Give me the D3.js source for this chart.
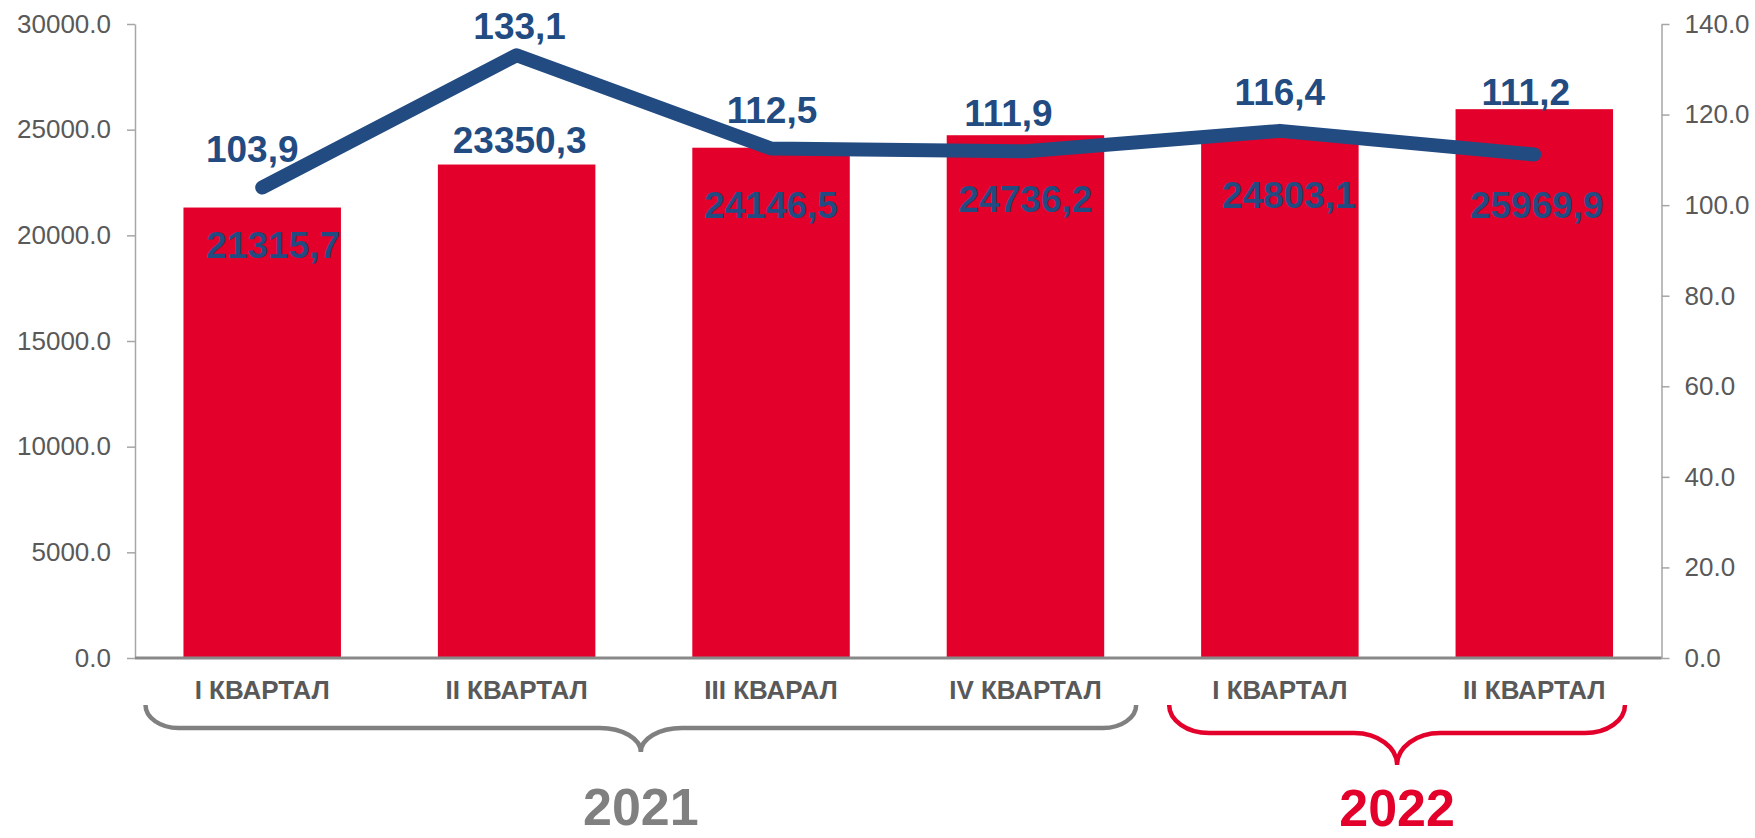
<!DOCTYPE html>
<html><head><meta charset="utf-8">
<script src="https://cdn.jsdelivr.net/npm/d3@7"></script>
<style>body{margin:0;background:#fff} svg{display:block}</style>
</head><body><svg id="c" width="1755" height="838"></svg>
<script>
// ---- data ----
const categories = ["I КВАРТАЛ", "II КВАРТАЛ", "III КВАРАЛ", "IV КВАРТАЛ", "I КВАРТАЛ", "II КВАРТАЛ"];
const volumes = [21315.7, 23350.3, 24146.5, 24736.2, 24803.1, 25969.9];
const growth = [103.9, 133.1, 112.5, 111.9, 116.4, 111.2];
const leftTicks = [0, 5000, 10000, 15000, 20000, 25000, 30000];
const rightTicks = [0, 20, 40, 60, 80, 100, 120, 140];
const yearLabels = ["2021", "2022"];
const yearFrom = [0, 4];
const yearTo = [3, 5];

// ---- label placement (style) ----
const barLabelDx = [11, 3, 0, 0, 9, 2.5];
const barLabelDy = [50.5, -11.5, 70, 77, 74.5, 109];
const lineLabelDx = [-10, 3, 1, -17, 0, -8.5];
const lineLabelDy = [-25.5, -16, -25.5, -25, -26, -49];

const BLUE = "#224B82", RED = "#E3002B", GRAY = "#808080", TXT = "#595959";
const FONT = "'Liberation Sans', Arial, sans-serif";

const svg = d3.select("#c");
const pLeft = 135, pRight = 1661.5, pTop = 24, pBottom = 658;

const x = d3.scaleBand().domain(d3.range(categories.length)).range([pLeft, pRight])
  .paddingInner(0.381).paddingOuter(0.1905);
const yL = d3.scaleLinear().domain([0, 30000]).range([pBottom, pTop]);
const yR = d3.scaleLinear().domain([0, 140]).range([pBottom, pTop]);

const loc = d3.formatLocale({decimal: ",", thousands: "", grouping: [3], currency: ["", ""]});
const fmtC = loc.format(".1f");
const fmtAxis = d3.format(".1f");

// axes
const gL = svg.append("g").attr("transform", `translate(${pLeft},0)`)
  .call(d3.axisLeft(yL).tickValues(leftTicks).tickFormat(fmtAxis).tickSize(8).tickSizeOuter(0).tickPadding(16));
const gR = svg.append("g").attr("transform", `translate(${pRight},0)`)
  .call(d3.axisRight(yR).tickValues(rightTicks).tickFormat(fmtAxis).tickSize(8).tickSizeOuter(0).tickPadding(15));
[gL, gR].forEach(g => {
  g.select(".domain").attr("stroke", "#A6A6A6").attr("stroke-width", 1.5);
  g.selectAll(".tick line").attr("stroke", "#A6A6A6").attr("stroke-width", 1.5);
  g.selectAll(".tick text").attr("fill", TXT).style("font", `26px ${FONT}`);
});

// bars
svg.append("g").selectAll("rect").data(volumes).join("rect")
  .attr("x", (d, i) => x(i)).attr("width", x.bandwidth())
  .attr("y", d => yL(d)).attr("height", d => yL(0) - yL(d))
  .attr("fill", RED);

// baseline
svg.append("line").attr("x1", pLeft).attr("x2", pRight).attr("y1", yL(0)).attr("y2", yL(0))
  .attr("stroke", "#898989").attr("stroke-width", 3);

// line
const cx = i => x(i) + x.bandwidth() / 2;
svg.append("path").datum(growth)
  .attr("d", d3.line().x((d, i) => cx(i)).y(d => yR(d)))
  .attr("fill", "none").attr("stroke", BLUE).attr("stroke-width", 14)
  .attr("stroke-linecap", "round").attr("stroke-linejoin", "round");

// bar labels
svg.append("g").selectAll("text").data(volumes).join("text")
  .attr("x", (d, i) => cx(i) + barLabelDx[i]).attr("y", (d, i) => yL(d) + barLabelDy[i])
  .attr("text-anchor", "middle").attr("fill", BLUE)
  .style("font", `bold 37px ${FONT}`).text(d => fmtC(d));

// line labels
svg.append("g").selectAll("text").data(growth).join("text")
  .attr("x", (d, i) => cx(i) + lineLabelDx[i]).attr("y", (d, i) => yR(d) + lineLabelDy[i])
  .attr("text-anchor", "middle").attr("fill", BLUE)
  .style("font", `bold 37px ${FONT}`).text(d => fmtC(d));

// category labels
svg.append("g").selectAll("text").data(categories).join("text")
  .attr("x", (d, i) => cx(i)).attr("y", 699)
  .attr("text-anchor", "middle").attr("fill", TXT)
  .style("font", `bold 26px ${FONT}`).text(d => d);

// braces
function brace(x0, x1, yTop, yH, yTip, r, r2) {
  const m = (x0 + x1) / 2, k = 0.552;
  const vh = yH - yTop, vt = yTip - yH;
  return `M${x0},${yTop}` +
    `C${x0},${yTop + k * vh} ${x0 + r - k * r},${yH} ${x0 + r},${yH}` +
    `L${m - r2},${yH}` +
    `C${m - r2 + k * r2},${yH} ${m},${yTip - k * vt} ${m},${yTip}` +
    `C${m},${yTip - k * vt} ${m + r2 - k * r2},${yH} ${m + r2},${yH}` +
    `L${x1 - r},${yH}` +
    `C${x1 - r + k * r},${yH} ${x1},${yTop + k * vh} ${x1},${yTop}`;
}
const braceColors = [GRAY, RED];
const braceInsetL = [10.5, 16.5];
const braceInsetR = [16.5, 36.5];
const braceH = [23, 28];
const braceTip = [47, 60];
const braceR = [33, 40];
const braceR2 = [41, 43];
const yearBase = [825, 826];
yearLabels.forEach((lab, j) => {
  const x0 = x(yearFrom[j]) - x.step() * x.paddingOuter() + braceInsetL[j];
  const x1 = x(yearTo[j]) + x.bandwidth() + x.step() * x.paddingOuter() - braceInsetR[j];
  svg.append("path").attr("d", brace(x0, x1, 705, 705 + braceH[j], 705 + braceTip[j], braceR[j], braceR2[j]))
    .attr("fill", "none").attr("stroke", braceColors[j]).attr("stroke-width", 4.5);
  svg.append("text").attr("x", (x0 + x1) / 2).attr("y", yearBase[j])
    .attr("text-anchor", "middle").attr("fill", braceColors[j])
    .style("font", `bold 52px ${FONT}`).text(lab);
});
</script></body></html>
